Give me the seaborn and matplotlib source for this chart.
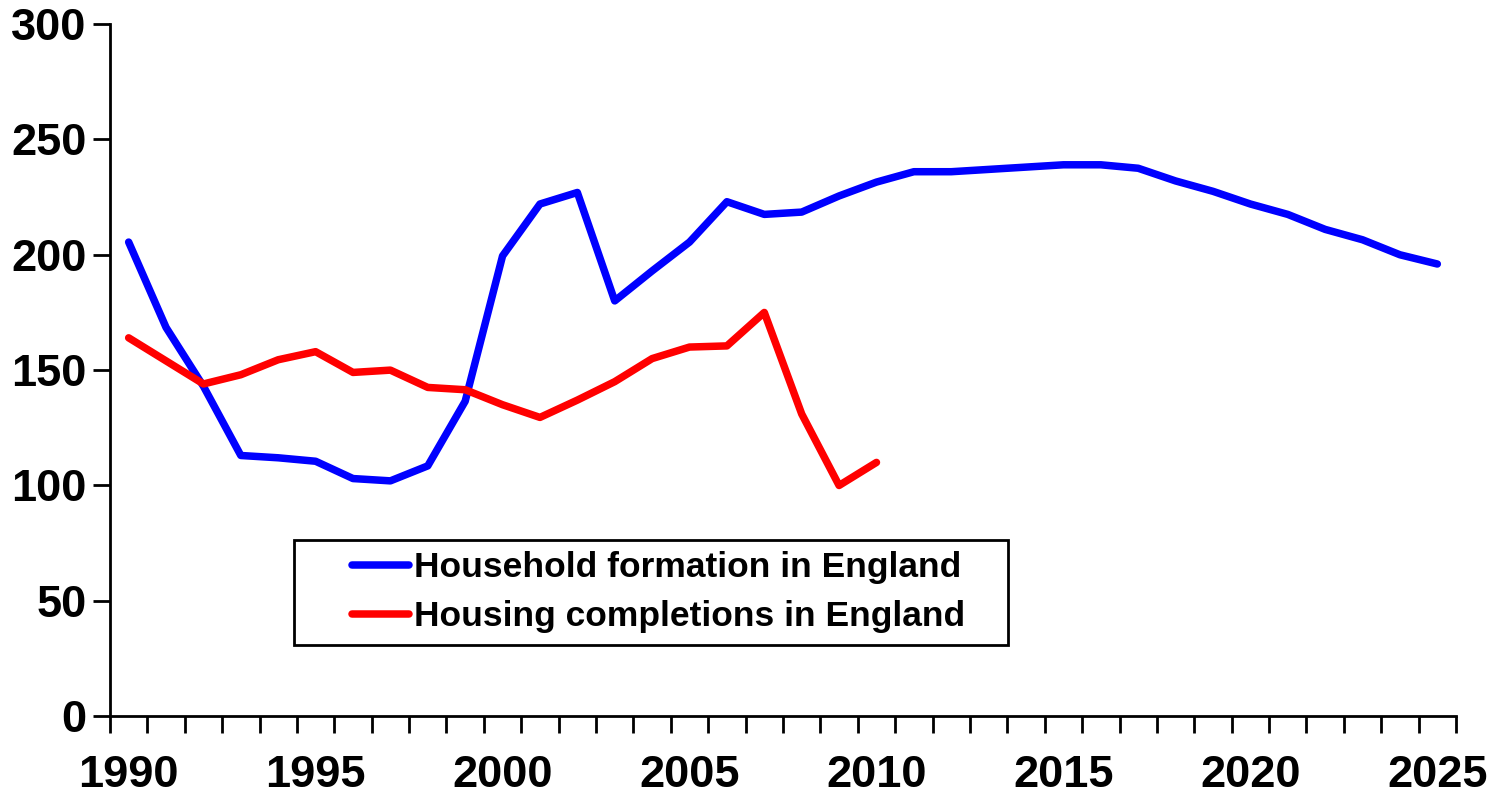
import numpy as np
import pandas as pd
import matplotlib.pyplot as plt
import seaborn as sns
from matplotlib.patches import Rectangle
from matplotlib.ticker import MultipleLocator, FixedLocator

# =============================================================================
# Data (thousands)
# =============================================================================
years_households = list(range(1990, 2026))
households = [205.5, 168.5, 143, 113, 112, 110.5, 103, 102, 108.5, 136.5,
              199.5, 222, 227, 180, 193, 205.5, 223, 217.5, 218.5, 225.5,
              231.5, 236, 236, 237, 238, 239, 239, 237.5, 232, 227.5,
              222, 217.5, 211, 206.5, 200, 196]

years_completions = list(range(1990, 2011))
completions = [164, 154, 144, 148, 154.5, 158, 149, 150, 142.5, 141.5,
               135, 129.5, 137, 145, 155, 160, 160.5, 175, 131, 100, 110]

label_households = 'Household formation in England'
label_completions = 'Housing completions in England'

df = pd.concat([
    pd.DataFrame({'year': years_households, 'value': households, 'series': label_households}),
    pd.DataFrame({'year': years_completions, 'value': completions, 'series': label_completions}),
])

# =============================================================================
# Plot
# =============================================================================
sns.set_theme(style='white')
plt.rcParams['font.family'] = ['Liberation Sans', 'DejaVu Sans']
plt.rcParams['font.weight'] = 'bold'
plt.rcParams['text.color'] = 'black'
plt.rcParams['xtick.color'] = 'black'
plt.rcParams['ytick.color'] = 'black'
plt.rcParams['axes.labelcolor'] = 'black'

fig = plt.figure(figsize=(14.9, 8.02), dpi=100)
ax = fig.add_axes([0.0738, 0.107, 0.9034, 0.863])

sns.lineplot(data=df, x='year', y='value', hue='series',
             palette={label_households: '#0000FF', label_completions: '#FF0000'},
             linewidth=5.4, ax=ax, solid_capstyle='round', solid_joinstyle='round')

ax.set_xlim(1989.5, 2025.5)
ax.set_ylim(0, 300)
ax.set_xlabel('')
ax.set_ylabel('')

ax.xaxis.set_major_locator(MultipleLocator(5))
ax.xaxis.set_minor_locator(FixedLocator(np.arange(1989.5, 2026, 1)))
ax.yaxis.set_major_locator(MultipleLocator(50))

ax.tick_params(axis='x', which='major', length=0, labelsize=32.5, pad=28)
ax.tick_params(axis='x', which='minor', length=12, width=2, color='black', bottom=True)
ax.tick_params(axis='y', which='major', length=12, width=2, color='black', left=True,
               labelsize=32.5, pad=5)
for lbl in ax.get_xticklabels() + ax.get_yticklabels():
    lbl.set_fontweight('bold')
    lbl.set_color('black')

for side in ['top', 'right']:
    ax.spines[side].set_visible(False)
for side in ['left', 'bottom']:
    ax.spines[side].set_linewidth(2)
    ax.spines[side].set_color('black')

# legend box drawn separately so the entries can sit indented like the original
ax.add_patch(Rectangle((0.137, 0.103), 0.530, 0.151, transform=ax.transAxes,
                       facecolor='white', edgecolor='black', linewidth=2, zorder=4))
leg = ax.legend(loc='center left', bbox_to_anchor=(0.180, 0.179),
                frameon=False, borderpad=0, borderaxespad=0,
                handlelength=1.6, handletextpad=0.15,
                labelspacing=0.46, prop={'weight': 'bold', 'size': 25.5})
leg.set_zorder(5)
for line in leg.get_lines():
    line.set_linewidth(5.4)
for txt in leg.get_texts():
    txt.set_color('black')

plt.savefig('out.png', dpi=100)
